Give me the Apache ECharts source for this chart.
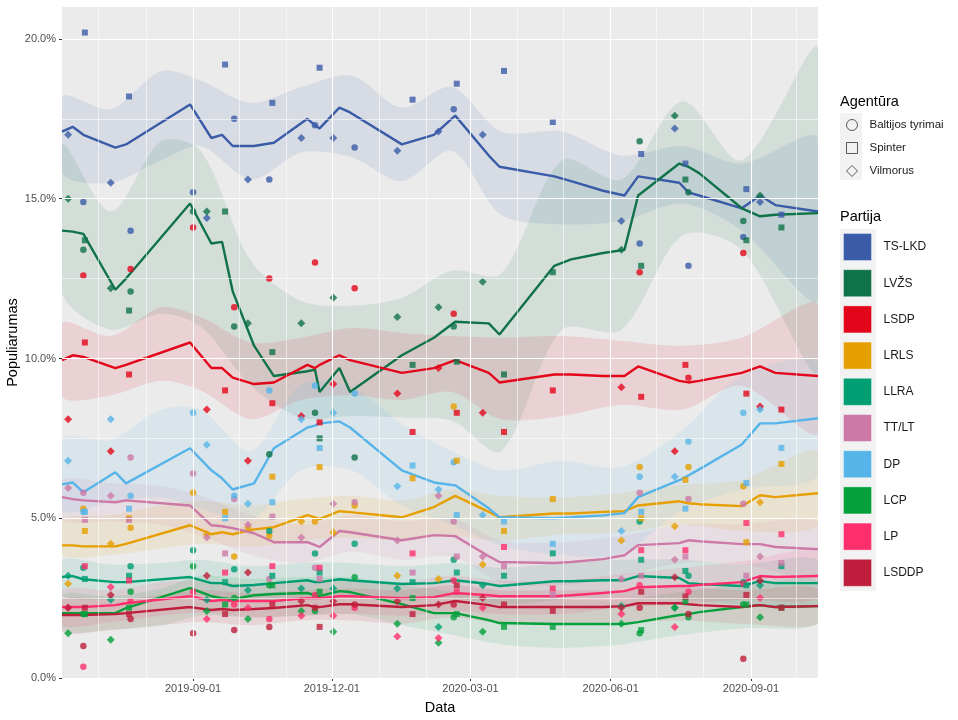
<!DOCTYPE html>
<html><head><meta charset="utf-8">
<script src="https://cdn.jsdelivr.net/npm/echarts@6/dist/echarts.min.js"></script>
<style>html,body{margin:0;padding:0;background:#fff}#c{width:958px;height:720px}</style>
</head><body><div id="c"></div>
<script>
// ---------------- DATA ----------------
const parties = ['TS-LKD','LVŽS','LSDP','LRLS','LLRA','TT/LT','DP','LCP','LP','LSDDP'];
const partyColors = ['#3A5BA7','#0F7249','#E3061A','#E69F00','#009E73','#CC79A7','#56B4E9','#03A03C','#FF2E6C','#BE1E3B'];

// x-axis labels (major) and monthly minor grid
const xMajorTicks = ['2019-09-01','2019-12-01','2020-03-01','2020-06-01','2020-09-01'];
const xMinorGrid = ['2019-07-01','2019-08-01','2019-10-01','2019-11-01','2020-01-01','2020-02-01','2020-04-01','2020-05-01','2020-07-01','2020-08-01','2020-10-01'];
const yMajorTicks = [0,5,10,15,20];
const yMinorGrid = [2.5,7.5,12.5,17.5];
const xRange = ['2019-06-07','2020-10-15'];
const yRange = [0, 21];

// trend lines
const lineDates = ['2019-06-07','2019-06-14','2019-06-21','2019-07-12','2019-07-19','2019-08-30','2019-09-13','2019-09-20','2019-09-27','2019-10-11','2019-10-24','2019-11-15','2019-11-20','2019-11-23','2019-12-06','2019-12-13','2020-01-16','2020-02-06','2020-02-20','2020-03-13','2020-03-20','2020-04-25','2020-05-06','2020-05-27','2020-06-10','2020-06-19','2020-07-16','2020-07-22','2020-07-29','2020-08-26','2020-09-07','2020-09-17','2020-10-15'];
const line_TSLKD = [17.1,17.25,17.0,16.6,16.7,17.95,16.9,17.0,16.65,16.65,16.75,17.5,17.3,17.2,17.85,17.7,16.7,17.0,17.6,16.35,16.0,15.7,15.55,15.25,15.1,15.7,15.5,15.2,15.1,14.7,15.1,14.8,14.6];
const line_LVZS = [14.0,13.97,13.9,12.15,12.5,14.85,13.6,13.65,12.1,10.4,9.45,9.6,9.65,8.95,9.7,8.95,10.1,10.65,11.15,11.1,10.75,12.9,13.1,13.3,13.4,15.1,16.1,16.0,15.8,14.7,14.45,14.5,14.55];
const line_LSDP = [9.95,10.1,10.05,9.7,9.8,10.5,9.7,9.7,9.4,9.2,9.25,9.8,9.7,9.8,10.1,9.95,9.55,9.7,9.95,9.55,9.25,9.5,9.5,9.45,9.45,9.75,9.3,9.25,9.3,9.55,9.75,9.55,9.45];
const line_LRLS = [4.15,4.15,4.12,4.12,4.2,4.78,4.5,4.56,4.5,4.65,4.72,5.1,5.03,4.97,5.22,5.19,5.03,5.35,5.7,5.2,5.03,5.15,5.15,5.2,5.22,5.4,5.53,5.47,5.44,5.38,5.72,5.66,5.78];
const line_LLRA = [3.16,3.19,3.09,3.0,3.0,3.16,2.97,2.97,2.88,2.91,2.97,3.06,3.0,3.0,3.09,3.06,2.94,2.97,3.06,2.94,2.88,3.03,3.03,3.06,3.06,3.19,3.13,2.97,2.94,2.88,3.03,2.97,2.97];
const line_TTLT = [5.66,5.6,5.56,5.5,5.56,5.4,4.78,4.75,4.69,4.53,4.25,4.25,4.16,4.1,4.6,4.56,4.31,4.47,4.44,3.81,3.63,3.6,3.63,3.72,3.84,4.16,4.22,4.31,4.28,4.19,4.19,4.1,4.03];
const line_DP = [6.06,6.12,5.81,6.44,6.09,7.19,6.5,6.25,5.9,6.09,7.19,7.84,7.9,7.97,8.03,7.84,6.5,6.12,6.03,5.31,5.03,5.0,5.03,5.09,5.16,5.66,6.19,6.34,6.53,7.31,7.97,7.97,8.13];
const line_LCP = [2.03,2.03,2.03,2.03,2.19,2.81,2.56,2.5,2.47,2.59,2.63,2.66,2.59,2.56,2.72,2.69,2.31,2.03,2.03,1.81,1.72,1.69,1.69,1.69,1.69,1.75,1.97,2.0,2.06,2.22,2.28,2.22,2.25];
const line_LP = [2.22,2.22,2.22,2.28,2.34,2.56,2.41,2.44,2.41,2.41,2.41,2.5,2.5,2.5,2.56,2.56,2.5,2.53,2.66,2.59,2.56,2.56,2.59,2.66,2.72,2.84,2.88,2.88,2.91,3.0,3.19,3.16,3.19];
const line_LSDDP = [1.97,1.97,1.97,2.0,2.03,2.22,2.13,2.16,2.13,2.16,2.19,2.28,2.22,2.22,2.31,2.31,2.22,2.28,2.41,2.28,2.22,2.22,2.22,2.22,2.25,2.34,2.34,2.31,2.28,2.22,2.28,2.22,2.25];

// uncertainty bands
const bandDates = ['2019-06-07','2019-07-09','2019-08-11','2019-09-06','2019-10-09','2019-11-11','2019-12-14','2020-01-16','2020-02-18','2020-03-21','2020-04-30','2020-06-08','2020-07-18','2020-08-26','2020-10-15'];
const bandUp_TSLKD = [18.2,17.8,19.0,18.7,18.0,18.5,18.85,17.85,18.5,17.1,17.1,16.35,16.65,16.1,16.9];
const bandLo_TSLKD = [15.8,15.5,16.2,16.65,15.6,16.45,16.3,15.55,16.5,14.5,14.2,14.3,14.85,14.0,11.8];
const bandUp_LVZS = [16.7,14.6,16.8,16.5,13.05,11.8,11.65,11.9,12.75,12.65,16.2,15.6,18.05,16.2,19.7];
const bandLo_LVZS = [12.05,10.9,11.4,11.0,9.15,8.15,8.2,8.15,8.05,7.1,10.9,10.9,13.85,13.4,9.6];
const bandUp_LSDP = [11.1,10.7,11.6,11.3,10.5,10.65,10.95,10.8,10.7,10.65,10.7,10.55,10.4,10.65,11.7];
const bandLo_LSDP = [8.8,8.85,9.3,9.0,8.1,8.7,8.85,8.7,8.95,8.1,8.2,8.55,8.4,9.15,7.65];
const bandUp_LRLS = [4.95,5.1,5.4,5.55,5.4,5.6,5.7,5.55,5.9,5.7,5.65,5.8,6.05,6.2,7.1];
const bandLo_LRLS = [3.85,3.85,4.05,4.2,4.1,4.3,4.4,4.3,4.45,4.3,4.5,4.55,4.8,4.6,4.8];
const bandUp_LLRA = [3.7,3.55,3.6,3.7,3.5,3.6,3.6,3.5,3.6,3.45,3.6,3.7,3.7,3.55,3.7];
const bandLo_LLRA = [2.6,2.45,2.5,2.6,2.4,2.5,2.55,2.4,2.5,2.3,2.45,2.5,2.45,2.3,2.3];
const bandUp_TTLT = [6.2,6.1,6.0,5.7,5.1,4.8,5.1,4.9,5.0,4.3,4.25,4.45,4.8,4.8,4.9];
const bandLo_TTLT = [4.95,4.9,4.8,4.45,3.85,3.6,3.95,3.7,3.8,3.0,2.9,3.2,3.6,3.55,3.2];
const bandUp_DP = [7.5,7.45,8.4,8.4,7.1,9.2,9.1,7.95,7.1,6.5,6.8,6.6,7.75,9.45,9.85];
const bandLo_DP = [5.25,5.5,5.65,5.3,4.95,6.5,6.5,5.4,4.8,4.15,3.85,3.9,5.25,5.9,6.35];
const bandUp_LCP = [2.6,2.55,2.8,3.2,3.1,3.15,3.15,2.9,2.7,2.5,2.45,2.45,2.7,2.9,3.05];
const bandLo_LCP = [1.5,1.5,1.65,1.95,1.9,1.95,2.0,1.65,1.35,1.05,0.95,1.05,1.35,1.55,1.7];
const bandUp_LP = [2.75,2.75,3.0,3.05,2.95,3.05,3.05,3.0,3.2,3.05,3.05,3.25,3.45,3.65,3.95];
const bandLo_LP = [1.65,1.75,1.95,2.05,1.9,1.95,2.0,1.95,2.1,2.0,2.0,2.2,2.3,2.45,2.5];
const bandUp_LSDDP = [2.45,2.45,2.6,2.75,2.65,2.75,2.8,2.75,2.9,2.75,2.75,2.75,2.85,2.75,2.8];
const bandLo_LSDDP = [1.45,1.5,1.65,1.75,1.65,1.8,1.8,1.7,1.9,1.7,1.7,1.75,1.8,1.7,1.7];

// polls: Baltijos tyrimai (circle)
const datesBT = ['2019-06-21','2019-07-22','2019-09-01','2019-09-28','2019-10-21','2019-11-20','2019-12-16','2020-02-19','2020-06-20','2020-07-22','2020-08-27'];
const bt_TSLKD = [14.9,14.0,15.2,17.5,15.6,17.3,16.6,17.8,13.6,12.9,13.8];
const bt_LVZS = [13.4,12.1,14.6,11.0,7.0,8.3,6.9,11.0,16.8,15.2,14.3];
const bt_LSDP = [12.6,12.8,14.1,11.6,12.5,13.0,12.2,11.4,12.7,9.4,13.3];
const bt_LRLS = [5.3,4.7,5.8,3.8,4.45,4.9,5.4,8.5,6.6,6.6,6.0];
const bt_LLRA = [3.45,3.5,4.0,3.4,4.6,3.9,4.2,3.7,4.9,3.2,3.0];
const bt_TTLT = [5.8,6.9,6.4,5.6,3.1,3.45,5.5,4.9,5.8,5.6,5.45];
const bt_DP = [5.2,5.7,8.3,5.7,9.0,9.15,8.9,6.75,6.3,7.4,8.3];
const bt_LCP = [2.0,2.7,3.5,2.5,2.9,2.1,3.15,1.9,1.4,1.9,2.3];
const bt_LP = [0.35,2.4,2.7,2.3,1.85,2.6,2.2,3.05,2.9,2.7,2.95];
const bt_LSDDP = [1.0,1.85,1.4,1.5,1.6,2.2,2.3,2.3,2.2,2.0,0.6];

// polls: Spinter (square)
const datesSpinter = ['2019-06-22','2019-07-21','2019-09-22','2019-10-23','2019-11-23','2020-01-23','2020-02-21','2020-03-23','2020-04-24','2020-06-21','2020-07-20','2020-08-29','2020-09-21'];
const sp_TSLKD = [20.2,18.2,19.2,18.0,19.1,18.1,18.6,19.0,17.4,16.4,16.1,15.3,14.5];
const sp_LVZS = [13.7,11.5,14.6,10.2,7.5,9.8,9.9,9.5,12.7,12.9,15.6,13.7,14.1];
const sp_LSDP = [10.5,9.5,9.0,8.6,8.0,7.7,8.3,7.7,9.0,8.8,9.8,8.9,8.4];
const sp_LRLS = [4.6,5.0,5.2,6.3,6.6,6.25,6.8,4.6,5.6,5.0,6.2,4.25,6.7];
const sp_LLRA = [3.1,3.2,3.0,3.2,3.3,3.0,3.3,3.2,3.9,3.7,3.35,2.9,3.5];
const sp_TTLT = [4.95,4.95,3.9,5.05,3.1,3.3,3.8,3.5,2.6,3.2,3.8,3.2,3.6];
const sp_DP = [5.2,5.3,5.0,5.5,7.2,6.65,5.1,4.9,4.2,5.2,5.3,6.1,7.2];
const sp_LCP = [2.0,2.2,2.3,2.9,2.7,2.5,2.0,1.6,1.6,1.5,2.4,2.3,2.2];
const sp_LP = [3.5,3.05,3.3,3.5,3.45,3.9,2.7,4.1,2.8,4.0,4.0,4.85,4.5];
const sp_LSDDP = [2.2,2.0,2.0,2.3,1.6,2.0,2.9,2.3,2.1,2.7,2.55,2.6,2.2];

// polls: Vilmorus (diamond)
const datesVilmorus = ['2019-06-11','2019-07-09','2019-09-10','2019-10-07','2019-11-11','2019-12-02','2020-01-13','2020-02-09','2020-03-09','2020-06-08','2020-07-13','2020-09-07'];
const vi_TSLKD = [17.0,15.5,14.4,15.6,16.9,16.9,16.5,17.1,17.0,14.3,17.2,14.9];
const vi_LVZS = [15.0,12.2,14.6,11.1,11.1,11.9,11.3,11.6,12.4,13.4,17.6,15.1];
const vi_LSDP = [8.1,7.1,8.4,6.8,8.2,9.2,8.9,9.7,8.3,9.1,7.1,8.5];
const vi_LRLS = [2.95,4.2,4.5,4.7,4.9,4.55,3.2,3.1,3.55,4.3,4.75,5.5];
const vi_LLRA = [3.2,2.45,2.45,2.75,2.8,2.8,2.8,1.6,2.9,2.25,2.2,2.9];
const vi_TTLT = [5.95,5.7,4.4,4.8,4.4,5.45,4.3,5.7,3.8,3.1,3.7,3.8];
const vi_DP = [6.8,8.1,7.3,5.45,8.1,8.3,6.0,5.9,5.1,4.6,6.3,8.4];
const vi_LCP = [1.4,1.2,2.1,1.85,2.1,1.45,1.7,1.1,1.45,1.7,2.2,1.9];
const vi_LP = [2.2,2.85,1.85,2.2,1.95,1.95,1.3,1.25,2.2,2.0,1.6,2.5];
const vi_LSDDP = [2.2,2.6,3.2,3.3,2.4,2.4,2.4,2.3,2.5,2.2,3.15,3.05];

// ---------------- BUILD ----------------
const T = s => Date.parse(s + 'T00:00:00Z');
const lines = [line_TSLKD,line_LVZS,line_LSDP,line_LRLS,line_LLRA,line_TTLT,line_DP,line_LCP,line_LP,line_LSDDP];
const bandUps = [bandUp_TSLKD,bandUp_LVZS,bandUp_LSDP,bandUp_LRLS,bandUp_LLRA,bandUp_TTLT,bandUp_DP,bandUp_LCP,bandUp_LP,bandUp_LSDDP];
const bandLos = [bandLo_TSLKD,bandLo_LVZS,bandLo_LSDP,bandLo_LRLS,bandLo_LLRA,bandLo_TTLT,bandLo_DP,bandLo_LCP,bandLo_LP,bandLo_LSDDP];
const agencies = [
  {name:'Baltijos tyrimai', symbol:'circle', size:6.5, dates:datesBT, vals:[bt_TSLKD,bt_LVZS,bt_LSDP,bt_LRLS,bt_LLRA,bt_TTLT,bt_DP,bt_LCP,bt_LP,bt_LSDDP]},
  {name:'Spinter', symbol:'rect', size:6, dates:datesSpinter, vals:[sp_TSLKD,sp_LVZS,sp_LSDP,sp_LRLS,sp_LLRA,sp_TTLT,sp_DP,sp_LCP,sp_LP,sp_LSDDP]},
  {name:'Vilmorus', symbol:'diamond', size:8, dates:datesVilmorus, vals:[vi_TSLKD,vi_LVZS,vi_LSDP,vi_LRLS,vi_LLRA,vi_TTLT,vi_DP,vi_LCP,vi_LP,vi_LSDDP]}
];
const FONT = '"Liberation Sans", Arial, Helvetica, sans-serif';
const pad = n => (n < 10 ? '0' : '') + n;
const fmtDate = v => { const d = new Date(v); return d.getUTCFullYear() + '-' + pad(d.getUTCMonth()+1) + '-' + pad(d.getUTCDate()); };

const series = [];
function gridSeries(name, data, width) {
  return {type:'line', name, data:[], z:1, silent:true,
    markLine:{silent:true, symbol:'none', animation:false, label:{show:false},
      lineStyle:{color:'#FFFFFF', width, type:'solid', opacity:1}, emphasis:{disabled:true}, data}};
}
series.push(gridSeries('_gx2', xMinorGrid.map(d => ({xAxis:T(d)})), 0.55));
series.push(gridSeries('_gy2', yMinorGrid.map(v => ({yAxis:v})), 0.55));
series.push(gridSeries('_gx1', xMajorTicks.map(d => ({xAxis:T(d)})), 1.1));
series.push(gridSeries('_gy1', yMajorTicks.map(v => ({yAxis:v})), 1.1));

// bands: one filled polygon per party, positioned through the axes
parties.forEach((p, i) => {
  const rows = bandDates.map((d, k) => [T(d), bandLos[i][k], bandUps[i][k]]);
  series.push({
    type:'custom', name:'_band' + i, z:2, silent:true, clip:true, data:rows, encode:{x:0, y:[1,2]},
    renderItem(params, api) {
      if (params.dataIndex !== 0) return null;
      const top = rows.map(r => api.coord([r[0], r[2]]));
      const bot = rows.map(r => api.coord([r[0], r[1]])).reverse();
      const a = api.coord([T(xRange[0]), yRange[1]]);
      const b = api.coord([T(xRange[1]), yRange[0]]);
      return {type:'polygon', shape:{points: top.concat(bot), smooth:0.3, smoothConstraint:[[a[0], a[1]], [b[0], b[1]]]},
        style:{fill:partyColors[i], opacity:0.11}};
    }
  });
});
parties.forEach((p, i) => {
  series.push({type:'line', name:p, z:3, showSymbol:false, symbol:'none', silent:true,
    data: lineDates.map((d, k) => [T(d), lines[i][k]]),
    lineStyle:{color:partyColors[i], width:2.4}, itemStyle:{color:partyColors[i]}});
});
agencies.forEach(a => {
  const data = [];
  a.vals.forEach((arr, i) => arr.forEach((v, k) => data.push({value:[T(a.dates[k]), v], itemStyle:{color:partyColors[i]}})));
  series.push({type:'scatter', name:a.name, z:4, symbol:a.symbol, symbolSize:a.size, silent:true, data});
});

const chart = echarts.init(document.getElementById('c'), null, {renderer:'canvas'});
chart.setOption({
  animation:false,
  textStyle:{fontFamily:FONT},
  grid:{left:62, right:140, top:7, bottom:42, show:true, backgroundColor:'#EBEBEB', borderWidth:0, outerBoundsMode:'none', containLabel:false},
  xAxis:{type:'value', min:T(xRange[0]), max:T(xRange[1]), scale:true,
    name:'Data', nameLocation:'middle', nameGap:22, nameMoveOverlap:false, nameTextStyle:{fontSize:14.5, color:'#000', fontFamily:FONT},
    axisLine:{show:false}, splitLine:{show:false},
    axisTick:{show:true, length:3, lineStyle:{color:'#333'}, customValues:xMajorTicks.map(T)},
    axisLabel:{customValues:xMajorTicks.map(T), formatter:fmtDate, color:'#4D4D4D', fontSize:11, margin:5, fontFamily:FONT, hideOverlap:false}
  },
  yAxis:{type:'value', min:yRange[0], max:yRange[1], interval:5,
    name:'Populiarumas', nameLocation:'middle', nameGap:42, nameRotate:90, nameMoveOverlap:false, nameTextStyle:{fontSize:14.5, color:'#000', fontFamily:FONT},
    axisLine:{show:false}, splitLine:{show:false},
    axisTick:{show:true, length:3, lineStyle:{color:'#333'}, customValues:yMajorTicks},
    axisLabel:{customValues:yMajorTicks, formatter:v => (v % 5 === 0 && v <= 20) ? v.toFixed(1) + '%' : '', color:'#4D4D4D', fontSize:11, margin:6, fontFamily:FONT}
  },
  title:[
    {text:'Agentūra', left:840, top:94, textStyle:{fontSize:14.5, fontWeight:'normal', color:'#000', fontFamily:FONT}, padding:0},
    {text:'Partija', left:840, top:209, textStyle:{fontSize:14.5, fontWeight:'normal', color:'#000', fontFamily:FONT}, padding:0}
  ],
  graphic:[
    {type:'rect', left:840, top:113, shape:{width:22, height:67}, style:{fill:'#F2F2F2'}, silent:true, z:-1},
    {type:'rect', left:840, top:229, shape:{width:36, height:362}, style:{fill:'#F2F2F2'}, silent:true, z:-1}
  ],
  legend:[
    {orient:'vertical', left:846, top:119, itemWidth:11, itemHeight:11, itemGap:11, selectedMode:false, padding:0,
      textStyle:{fontSize:11.5, color:'#1A1A1A', fontFamily:FONT, padding:[0,0,0,7], lineHeight:12},
      data:agencies.map(a => ({name:a.name, icon:a.symbol, itemStyle:{color:'rgba(0,0,0,0)', borderColor:'#333', borderWidth:1}}))},
    {orient:'vertical', left:843, top:233, itemWidth:28, itemHeight:27, itemGap:8.2, selectedMode:false, padding:0,
      textStyle:{fontSize:12, color:'#1A1A1A', fontFamily:FONT, padding:[0,0,0,7]},
      data:parties.map((p, i) => ({name:p, icon:'rect', itemStyle:{color:partyColors[i], borderColor:'rgba(255,255,255,0.35)', borderWidth:1}}))}
  ],
  series
});
</script></body></html>
